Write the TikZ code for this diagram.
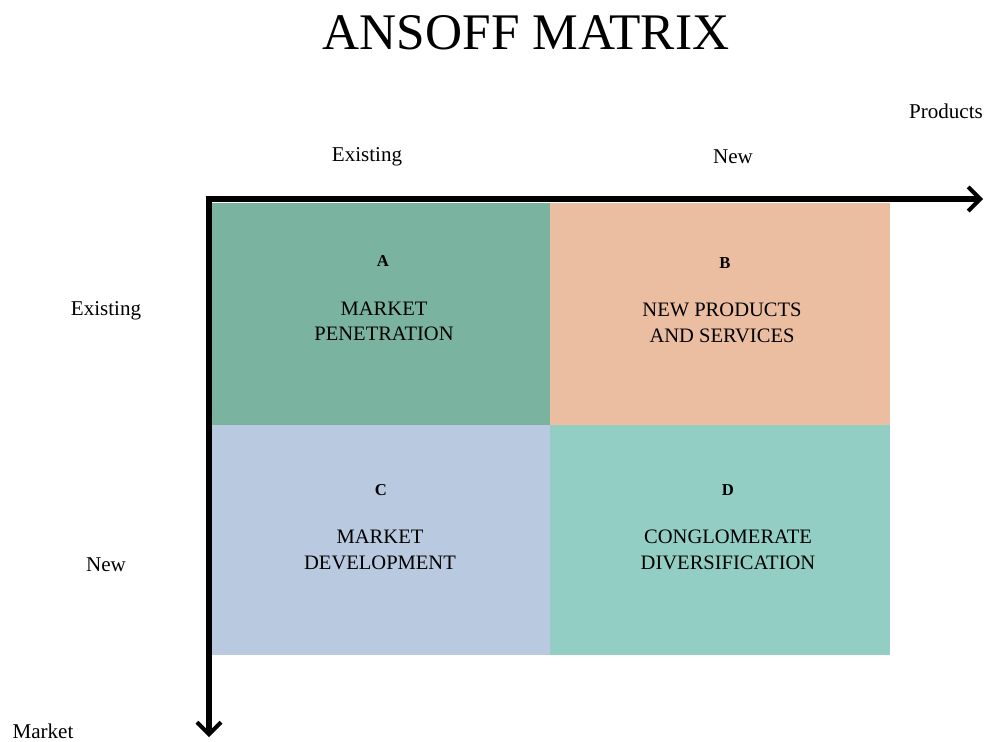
\documentclass[tikz,border=0pt]{standalone}
\usepackage{fontspec}
\setmainfont{Liberation Serif}
\usetikzlibrary{arrows.meta}
\definecolor{cA}{HTML}{7AB39F}
\definecolor{cB}{HTML}{EBBEA2}
\definecolor{cC}{HTML}{B8C9E0}
\definecolor{cD}{HTML}{92CEC4}
\begin{document}
\begin{tikzpicture}[x=0.75pt,y=-0.75pt,
  cell/.style={draw=none,inner sep=0pt,anchor=north west},
  lbl/.style={font=\fontsize{15.8}{18}\selectfont,inner sep=0pt},
  celltxt/.style={font=\fontsize{15.4}{19}\selectfont,align=center,inner sep=0pt},
  letter/.style={font=\fontsize{12.5}{14}\selectfont\bfseries,inner sep=0pt},
  axis/.style={line width=3.8pt,-{Straight Barb[length=9pt,width=18pt,line width=3pt]}}]
\useasboundingbox (0,0) rectangle (985,742);
% cells
\node[cell,fill=cA,minimum width=338*0.75pt,minimum height=222*0.75pt] (A) at (212,203) {};
\node[cell,fill=cB,minimum width=340*0.75pt,minimum height=222*0.75pt] (B) at (550,203) {};
\node[cell,fill=cC,minimum width=338*0.75pt,minimum height=230*0.75pt] (C) at (212,425) {};
\node[cell,fill=cD,minimum width=340*0.75pt,minimum height=230*0.75pt] (D) at (550,425) {};
% title
\node[font=\fontsize{38.5}{44}\selectfont,inner sep=0pt] (title) at (526,33) {ANSOFF MATRIX};
% axes
\coordinate (o) at (209,199);
\coordinate (xend) at (983,199);
\coordinate (yend) at (209,737);
\draw[axis] ([xshift=-3.5*0.75pt]o) -- (xend);
\draw[axis] ([yshift=-2*0.75pt]o) -- (yend);
% axis labels
\node[lbl] (prod) at (946,111) {Products};
\node[lbl] (ex1) at (367,157) {Existing};
\node[lbl] (new1) at (733,157) {New};
\node[lbl] (ex2) at (106,311) {Existing};
\node[lbl] (new2) at (106,565) {New};
\node[lbl] (mkt) at (43,731) {Market};
% cell texts
\node[letter] (la) at (383,261) {A};
\node[celltxt] (ta) at (384,321) {MARKET\\PENETRATION};
\node[letter] (lb) at (725,263) {B};
\node[celltxt] (tb) at (722,323) {NEW PRODUCTS\\AND SERVICES};
\node[letter] (lc) at (381,490) {C};
\node[celltxt] (tc) at (380,550) {MARKET\\DEVELOPMENT};
\node[letter] (ld) at (728,490) {D};
\node[celltxt] (td) at (728,550) {CONGLOMERATE\\DIVERSIFICATION};
\end{tikzpicture}
\end{document}
